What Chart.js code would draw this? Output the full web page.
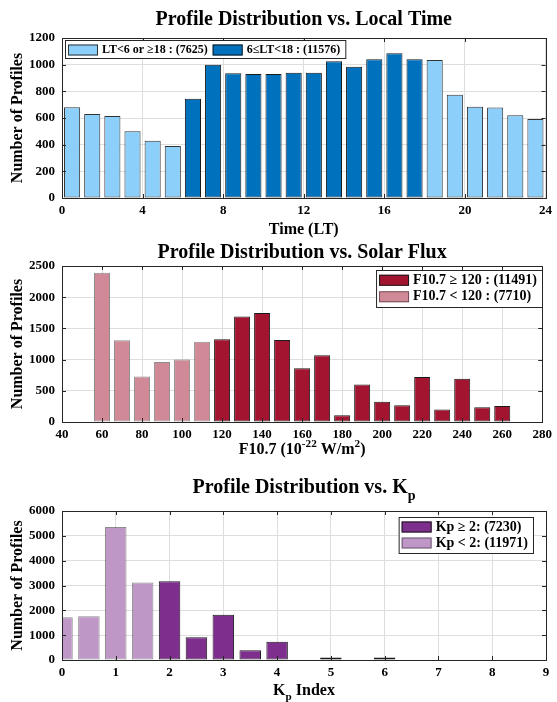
<!DOCTYPE html>
<html>
<head>
<meta charset="utf-8">
<script src="https://cdn.jsdelivr.net/npm/chart.js@4.4.1/dist/chart.umd.min.js"></script>
<style>
  body { margin: 0; background: #fff; width: 557px; height: 702px; overflow: hidden; position: relative; }
  .box { position: absolute; left: 0; width: 557px; }
</style>
</head>
<body>
<div class="box" style="top:0;height:240px"><canvas id="ltChart"></canvas></div>
<div class="box" style="top:238px;height:228px"><canvas id="fluxChart"></canvas></div>
<div class="box" style="top:466px;height:236px"><canvas id="kpChart"></canvas></div>
<script>
const FONT = 'Liberation Serif';
const INK = '#262626';

// Panel 1: local time (bin centres, hours)
const ltHours = [0.5, 1.5, 2.5, 3.5, 4.5, 5.5, 6.5, 7.5, 8.5, 9.5, 10.5, 11.5,
                 12.5, 13.5, 14.5, 15.5, 16.5, 17.5, 18.5, 19.5, 20.5, 21.5, 22.5, 23.5];
const ltCounts = [680, 630, 615, 500, 430, 390, 745, 1000, 935, 930, 930, 940,
                  940, 1025, 985, 1040, 1085, 1040, 1035, 775, 685, 678, 620, 592];
const ltLabels = ['LT<6 or \u226518 : (7625)', '6\u2264LT<18 : (11576)'];

// Panel 2: F10.7 solar flux
const fluxBins = [60, 70, 80, 90, 100, 110, 120, 130, 140, 150, 160, 170,
                  180, 190, 200, 210, 220, 230, 240, 250, 260];
const fluxCounts = [2390, 1310, 730, 960, 1000, 1285, 1325, 1690, 1745, 1315, 860, 1070,
                    110, 600, 325, 270, 720, 200, 695, 235, 255];
const fluxLabels = ['F10.7 \u2265 120 : (11491)', 'F10.7 < 120 : (7710)'];

// Panel 3: Kp index
const kpBins = [0, 0.5, 1, 1.5, 2, 2.5, 3, 3.5, 4, 5, 6];
const kpCounts = [1720, 1760, 5360, 3120, 3170, 920, 1820, 390, 730, 100, 100];
const kpLabels = ['Kp \u2265 2: (7230)', 'Kp < 2: (11971)'];

function points(xs, ys, keep) {
    return xs.map((x, i) => ({ x: x, y: ys[i] })).filter(p => keep(p.x));
}

function barSet(label, data, fill, edge) {
    return {
        label: label,
        data: data,
        backgroundColor: fill,
        borderColor: edge,
        borderWidth: 1,
        borderSkipped: false,
        barPercentage: 0.8,
        categoryPercentage: 1,
        grouped: false
    };
}

// draws text runs with sub/superscripts, centred on the plot
const richText = {
    id: 'richText',
    afterDraw(chart, args, opts) {
        const ctx = chart.ctx;
        const cx = (chart.chartArea.left + chart.chartArea.right) / 2;
        (opts.items || []).forEach(item => {
            let total = 0;
            item.segs.forEach(s => {
                const sz = (s.sub || s.sup) ? item.size * 0.7 : item.size;
                ctx.font = 'bold ' + sz + 'px "' + FONT + '"';
                s.w = ctx.measureText(s.t).width;
                total += s.w;
            });
            let x = cx - total / 2;
            ctx.save();
            ctx.fillStyle = '#000';
            ctx.textBaseline = 'middle';
            ctx.textAlign = 'left';
            item.segs.forEach(s => {
                const sz = (s.sub || s.sup) ? item.size * 0.7 : item.size;
                ctx.font = 'bold ' + sz + 'px "' + FONT + '"';
                let dy = 0;
                if (s.sub) dy = item.size * 0.4;
                if (s.sup) dy = -item.size * 0.35;
                ctx.fillText(s.t, x, item.y + dy);
                x += s.w;
            });
            ctx.restore();
        });
    }
};

// box round the plot with inward tick marks, like matlab
const frame = {
    id: 'frame',
    afterDatasetsDraw(chart) {
        const ctx = chart.ctx;
        const a = chart.chartArea;
        const xs = chart.scales.x, ys = chart.scales.y;
        ctx.save();
        ctx.strokeStyle = INK;
        ctx.lineWidth = 1;
        ctx.beginPath();
        xs.ticks.forEach(t => {
            const px = Math.round(xs.getPixelForValue(t.value)) + 0.5;
            ctx.moveTo(px, a.bottom); ctx.lineTo(px, a.bottom - 4);
            ctx.moveTo(px, a.top); ctx.lineTo(px, a.top + 4);
        });
        ys.ticks.forEach(t => {
            const py = Math.round(ys.getPixelForValue(t.value)) + 0.5;
            ctx.moveTo(a.left, py); ctx.lineTo(a.left + 4, py);
            ctx.moveTo(a.right, py); ctx.lineTo(a.right - 4, py);
        });
        ctx.stroke();
        ctx.strokeRect(Math.round(a.left) + 0.5, Math.round(a.top) + 0.5,
                       Math.round(a.right - a.left), Math.round(a.bottom - a.top));
        ctx.restore();
    }
};

// legend drawn inside the axes in a boxed frame
const boxLegend = {
    id: 'boxLegend',
    afterDraw(chart, args, opts) {
        if (!opts.order) return;
        const ctx = chart.ctx;
        const sets = opts.order.map(i => chart.data.datasets[i]);
        ctx.save();
        ctx.font = 'bold ' + opts.size + 'px "' + FONT + '"';
        const sw = 30, sh = 11, pad = 3, gap = 4;
        const widths = sets.map(d => ctx.measureText(d.label).width);
        let w, h;
        if (opts.row) {
            w = pad;
            widths.forEach(tw => { w += sw + gap + tw + pad + 2; });
            h = opts.rowH + 2;
        } else {
            w = pad + sw + gap + Math.max(...widths) + pad + 2;
            h = opts.rowH * sets.length + 4;
        }
        const x0 = opts.right !== undefined ? opts.right - w : opts.left;
        const y0 = opts.top;
        ctx.fillStyle = '#fff';
        ctx.fillRect(x0, y0, w, h);
        ctx.strokeStyle = INK;
        ctx.lineWidth = 1;
        ctx.strokeRect(x0 + 0.5, y0 + 0.5, w, h);
        ctx.textBaseline = 'middle';
        let x = x0 + pad, y = y0 + 2 + opts.rowH / 2;
        sets.forEach((d, i) => {
            if (!opts.row) { x = x0 + pad; y = y0 + 2 + opts.rowH * (i + 0.5); }
            ctx.fillStyle = d.backgroundColor;
            ctx.fillRect(x, y - sh / 2, sw, sh);
            ctx.strokeStyle = d.borderColor;
            ctx.strokeRect(x + 0.5, y - sh / 2 + 0.5, sw - 1, sh - 1);
            ctx.fillStyle = '#000';
            ctx.fillText(d.label, x + sw + gap, y);
            x += sw + gap + widths[i] + pad + 2;
        });
        ctx.restore();
    }
};

function tickFont() {
    return { family: FONT, size: 13, weight: 'bold' };
}

function makeOptions(o) {
    return {
        responsive: true,
        maintainAspectRatio: false,
        animation: false,
        layout: { padding: { top: o.top, left: 0, right: 11, bottom: o.bottom } },
        plugins: {
            legend: { display: false },
            tooltip: { enabled: false },
            boxLegend: o.legend,
            richText: { items: o.texts }
        },
        scales: {
            x: {
                type: 'linear',
                min: o.xMin, max: o.xMax,
                offset: false,
                ticks: { stepSize: o.xStep, font: tickFont(), color: '#000', padding: 5, maxRotation: 0, autoSkip: false },
                grid: { color: '#dedede', drawTicks: false, offset: false },
                border: { display: false },
                afterFit: s => { s.height = 20; }
            },
            y: {
                min: 0, max: o.yMax,
                ticks: {
                    stepSize: o.yStep, font: tickFont(), color: '#000', padding: 7,
                    callback: v => String(v)   // no thousands separator
                },
                grid: { color: '#dedede', drawTicks: false },
                border: { display: false },
                title: {
                    display: true, text: 'Number of Profiles', color: '#000',
                    font: { family: FONT, size: 16, weight: 'bold' },
                    padding: { top: 8, bottom: 0 }
                },
                afterFit: s => { s.width = 62; }
            }
        }
    };
}

// Plot 1: local time
new Chart(document.getElementById('ltChart'), {
    type: 'bar',
    data: {
        datasets: [
            barSet(ltLabels[0], points(ltHours, ltCounts, h => h < 6 || h >= 18), '#8ccffa', '#333333'),
            barSet(ltLabels[1], points(ltHours, ltCounts, h => h >= 6 && h < 18), '#0072bd', '#1a1a1a')
        ]
    },
    options: makeOptions({
        top: 38, bottom: 22,
        xMin: 0, xMax: 24, xStep: 4, yMax: 1200, yStep: 200,
        legend: { order: [0, 1], row: true, left: 65, top: 40, rowH: 16, size: 12 },
        texts: [
            { segs: [{ t: 'Profile Distribution vs. Local Time' }], y: 20, size: 20 },
            { segs: [{ t: 'Time (LT)' }], y: 230, size: 16 }
        ]
    }),
    plugins: [frame, boxLegend, richText]
});

// Plot 2: solar flux
new Chart(document.getElementById('fluxChart'), {
    type: 'bar',
    data: {
        datasets: [
            barSet(fluxLabels[0], points(fluxBins, fluxCounts, f => f >= 120), '#a2142f', '#1a1a1a'),
            barSet(fluxLabels[1], points(fluxBins, fluxCounts, f => f < 120), '#d08997', 'rgba(0,0,0,0.45)')
        ]
    },
    options: makeOptions({
        top: 28, bottom: 24,
        xMin: 40, xMax: 280, xStep: 20, yMax: 2500, yStep: 500,
        legend: { order: [0, 1], row: false, right: 542, top: 32, rowH: 16.5, size: 14 },
        texts: [
            { segs: [{ t: 'Profile Distribution vs. Solar Flux' }], y: 15, size: 20 },
            { segs: [{ t: 'F10.7 (10' }, { t: '-22', sup: true }, { t: ' W/m' }, { t: '2', sup: true }, { t: ')' }], y: 212, size: 16 }
        ]
    }),
    plugins: [frame, boxLegend, richText]
});

// Plot 3: Kp
new Chart(document.getElementById('kpChart'), {
    type: 'bar',
    data: {
        datasets: [
            barSet(kpLabels[0], points(kpBins, kpCounts, k => k >= 2), '#7e2f8e', '#1a1a1a'),
            barSet(kpLabels[1], points(kpBins, kpCounts, k => k < 2), '#be97c6', 'rgba(0,0,0,0.45)')
        ]
    },
    options: makeOptions({
        top: 45, bottom: 22,
        xMin: 0, xMax: 9, xStep: 1, yMax: 6000, yStep: 1000,
        legend: { order: [0, 1], row: false, right: 533, top: 51, rowH: 16, size: 14 },
        texts: [
            { segs: [{ t: 'Profile Distribution vs. K' }, { t: 'p', sub: true }], y: 22, size: 20 },
            { segs: [{ t: 'K' }, { t: 'p', sub: true }, { t: ' Index' }], y: 225, size: 16 }
        ]
    }),
    plugins: [frame, boxLegend, richText]
});
</script>
</body>
</html>
